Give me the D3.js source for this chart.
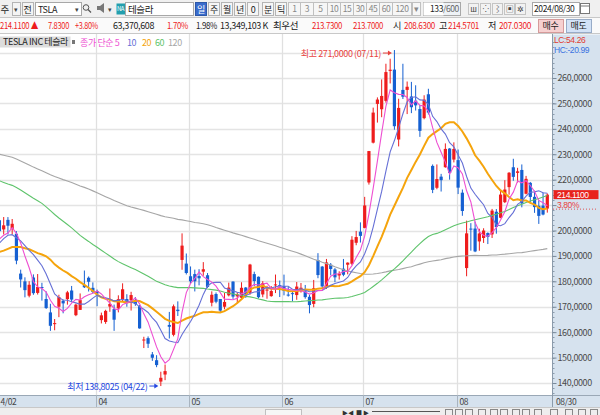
<!DOCTYPE html>
<html>
<head>
<meta charset="utf-8">
<script src="https://cdn.jsdelivr.net/npm/d3@7"></script>
<style>
body { margin: 0; background: #fff; }
svg { display: block; font-family: "Noto Sans CJK KR", "Noto Sans", sans-serif; }
.num { letter-spacing: -0.4px; }
.lat { font-family: "Liberation Sans", Arial, sans-serif; }
</style>
</head>
<body>
<script>
// TSLA daily candles, 2024-02-22 .. 2024-08-30
let dates = [
  "02/22","02/23","02/26","02/27","02/28","02/29",
  "03/01","03/04","03/05","03/06","03/07","03/08","03/11","03/12","03/13","03/14","03/15","03/18","03/19","03/20","03/21","03/22","03/25","03/26","03/27","03/28",
  "04/01","04/02","04/03","04/04","04/05","04/08","04/09","04/10","04/11","04/12","04/15","04/16","04/17","04/18","04/19","04/22","04/23","04/24","04/25","04/26","04/29","04/30",
  "05/01","05/02","05/03","05/06","05/07","05/08","05/09","05/10","05/13","05/14","05/15","05/16","05/17","05/20","05/21","05/22","05/23","05/24","05/28","05/29","05/30","05/31",
  "06/03","06/04","06/05","06/06","06/07","06/10","06/11","06/12","06/13","06/14","06/17","06/18","06/20","06/21","06/24","06/25","06/26","06/27","06/28",
  "07/01","07/02","07/03","07/05","07/08","07/09","07/10","07/11","07/12","07/15","07/16","07/17","07/18","07/19","07/22","07/23","07/24","07/25","07/26","07/29","07/30","07/31",
  "08/01","08/02","08/05","08/06","08/07","08/08","08/09","08/12","08/13","08/14","08/15","08/16","08/19","08/20","08/21","08/22","08/23","08/26","08/27","08/28","08/29","08/30"
];
let opens = [
  194.00,195.31,192.29,204.04,200.42,204.18,
  200.52,198.73,183.05,179.99,174.35,181.50,175.45,177.77,173.05,167.77,163.16,170.02,172.36,173.00,176.39,166.69,168.76,178.58,181.41,177.45,
  176.17,164.75,164.02,170.07,169.08,169.34,172.91,173.04,172.55,172.34,170.24,156.74,157.64,151.25,148.97,140.56,143.33,162.84,158.96,168.85,188.42,186.98,
  182.00,182.86,182.10,183.80,182.40,171.59,175.01,173.05,170.00,174.50,179.90,174.10,173.55,177.56,175.51,182.85,181.80,174.84,176.40,174.19,178.58,178.50,
  178.13,174.78,175.35,174.60,176.13,176.06,173.92,171.12,188.39,185.80,177.92,186.56,184.68,182.30,184.97,186.54,186.92,195.17,199.55,
  201.02,218.89,234.56,249.81,247.71,251.00,262.80,263.30,235.80,255.31,255.31,252.73,251.09,247.79,244.21,253.60,225.42,216.80,221.19,224.90,232.25,227.90,
  227.69,214.88,185.22,200.75,200.77,195.70,197.05,199.02,198.47,207.39,205.02,211.15,217.07,224.88,222.67,223.82,214.46,218.75,213.25,209.72,209.80,208.63
];
let highs = [
  198.32,197.57,201.78,205.60,205.30,205.28,
  204.52,199.75,184.59,181.58,180.04,182.73,182.87,179.43,176.05,171.17,165.18,174.72,172.82,176.25,178.18,171.20,175.24,184.25,181.91,179.57,
  176.75,167.69,168.82,177.19,170.86,174.50,179.22,174.93,175.88,173.81,170.69,158.19,158.33,152.20,150.94,144.44,147.26,167.97,170.88,172.12,198.87,190.95,
  185.86,184.60,184.78,187.56,183.26,176.06,175.62,173.06,175.40,179.49,180.00,175.79,179.63,177.75,186.88,183.80,181.90,180.08,178.25,178.15,182.67,180.32,
  182.64,177.76,176.15,179.73,179.35,178.57,174.75,180.55,191.08,186.00,188.81,187.20,185.21,183.95,188.80,187.45,197.76,199.84,203.20,
  213.23,231.30,248.35,252.37,259.44,265.61,267.59,271.00,251.84,265.60,258.62,258.47,257.14,249.44,253.21,255.76,225.99,226.00,222.28,234.27,232.41,234.68,
  231.87,216.13,203.88,202.90,203.49,200.70,200.88,199.26,208.49,208.44,215.88,219.80,222.98,228.22,224.66,225.99,221.48,219.09,215.66,211.84,214.89,214.57
];
let lows = [
  191.36,191.50,192.00,198.26,198.44,198.45,
  198.50,186.72,177.57,173.70,173.70,174.70,174.80,172.41,169.15,160.51,160.76,165.90,167.42,170.82,171.80,166.30,168.73,177.38,176.00,175.30,
  170.21,163.43,163.28,168.01,160.51,167.79,171.92,170.01,168.51,170.36,161.38,153.75,153.78,148.70,146.22,138.80,141.11,157.51,158.36,166.37,184.54,182.70,
  179.01,176.02,178.42,182.20,177.40,170.15,171.37,167.75,169.00,174.07,173.11,171.43,172.75,173.52,174.71,178.12,173.26,173.73,173.16,173.93,175.38,173.82,
  174.49,174.00,172.13,172.73,175.58,173.17,167.41,169.80,181.23,176.92,177.00,182.37,179.66,180.69,182.01,182.76,186.36,194.20,195.26,
  200.85,218.06,234.25,242.46,244.57,250.30,257.86,239.65,233.09,251.73,245.80,246.18,247.20,236.83,243.75,245.63,214.71,216.23,215.33,224.70,220.00,226.79,
  214.33,205.78,182.00,192.06,191.48,192.04,195.11,194.67,197.06,198.75,204.82,210.80,214.09,219.56,218.86,209.11,214.21,211.01,206.94,202.59,205.97,207.03
];
let closes = [
  197.41,191.97,199.40,199.73,202.04,201.88,
  202.64,188.14,180.74,176.54,178.65,175.34,177.77,177.54,169.48,162.50,163.57,173.80,171.32,175.66,172.82,170.83,172.63,177.67,179.83,175.79,
  175.22,166.63,168.38,171.11,164.90,172.98,176.88,171.76,174.60,171.05,161.48,157.11,155.45,149.93,147.05,142.05,144.68,162.13,170.18,168.29,194.05,183.28,
  179.99,180.01,181.19,184.76,177.81,174.72,171.97,168.47,171.89,177.55,173.99,174.84,177.46,174.95,186.60,180.11,173.74,179.24,176.75,176.19,178.79,178.08,
  176.29,174.77,175.00,177.94,177.48,173.79,170.66,177.29,182.47,178.01,187.44,184.86,181.57,183.01,182.58,187.35,196.37,197.42,197.88,
  209.86,231.26,246.39,251.52,252.94,262.33,263.26,241.03,248.23,252.64,256.56,248.50,249.23,239.20,251.51,246.38,215.99,220.25,219.80,232.10,222.62,232.07,
  216.86,207.67,198.88,200.64,191.76,198.84,200.00,197.49,207.83,201.38,214.14,216.12,222.72,221.10,223.27,210.66,220.32,213.21,209.21,205.75,206.28,214.11
];
// closes before the first bar (2023-08-31 .. 2024-02-21), needed for the moving averages
let priorCloses = [
  258.08,245.01,
  256.49,251.92,251.49,248.50,273.58,267.48,271.30,276.04,274.39,265.28,266.50,262.59,255.70,244.88,246.99,244.12,240.50,246.38,250.22,
  251.60,246.53,261.16,260.05,260.53,259.67,263.62,262.99,258.87,251.12,253.92,254.85,242.68,220.11,211.99,212.08,216.52,212.42,205.76,207.30,197.36,200.84,
  205.66,218.51,219.96,219.27,222.18,222.11,209.98,214.65,223.71,237.41,242.84,233.59,234.30,235.60,241.20,234.21,235.45,236.08,246.72,244.14,240.08,
  238.83,235.58,238.72,239.37,242.64,243.84,239.74,237.01,239.29,251.05,253.50,252.08,257.22,247.14,254.50,252.54,256.61,261.44,253.18,248.48,
  248.42,238.45,237.93,237.49,240.45,234.96,233.94,227.22,218.89,219.91,215.55,211.88,212.19,208.80,209.14,207.83,182.63,183.25,190.93,191.59,187.29,
  188.86,187.91,181.06,185.10,187.58,189.56,193.57,188.13,184.02,188.71,200.45,199.95,193.76,194.77
];
let maPeriods = [120, 60, 20, 10, 5];
let maColors = {5: "#ee4fd2", 10: "#6670d6", 20: "#f5a40c", 60: "#5fc46c", 120: "#a6a6a6"};
let yTicks = d3.range(140, 261, 10);
let gridTicks = d3.range(140, 271, 10);
let highMark = {date: "07/11", value: 271.0000};
let lowMark = {date: "04/22", value: 138.8025};

let width = 600;
let height = 415;
let plotRight = 552;
let plotTop = 34;
let plotBottom = 395;
let red = "#ee1c1c";
let blue = "#1560d2";

let svg = d3.select("body")
    .append("svg")
    .attr("width", width)
    .attr("height", height);

let x = d3.scalePoint().domain(dates).range([-13.3, 547.3]);
let y = d3.scaleLinear().domain([140, 260]).range([383, 78]);

function txt(g, x0, y0, s, color, size, anchor, len) {
    let t = g.append("text")
        .attr("x", x0).attr("y", y0)
        .attr("class", "num")
        .attr("font-size", size || 9)
        .attr("fill", color || "#222")
        .attr("text-anchor", anchor || "start")
        .text(s);
    if (len) t.attr("textLength", len).attr("lengthAdjust", "spacingAndGlyphs");
    return t;
}
function box(g, x0, y0, w, h, fill, stroke) {
    return g.append("rect")
        .attr("x", x0 + 0.5).attr("y", y0 + 0.5)
        .attr("width", w).attr("height", h)
        .attr("fill", fill).attr("stroke", stroke || "none");
}

// ---------- plot area ----------
svg.append("defs").append("clipPath").attr("id", "plotClip")
    .append("rect").attr("x", 0).attr("y", plotTop).attr("width", plotRight).attr("height", plotBottom - plotTop);

let plot = svg.append("g").attr("clip-path", "url(#plotClip)");

plot.selectAll(".hgrid")
    .data(gridTicks)
    .enter().append("line")
    .attr("x1", 0).attr("x2", plotRight)
    .attr("y1", d => Math.round(y(d)) + 0.5)
    .attr("y2", d => Math.round(y(d)) + 0.5)
    .attr("stroke", "#e4e4e4")
    .attr("stroke-width", 1.3);

let monthStarts = dates.filter((d, i) => i > 0 && d.slice(0, 2) !== dates[i - 1].slice(0, 2) && x(d) > 40);

plot.selectAll(".vgrid")
    .data(monthStarts)
    .enter().append("line")
    .attr("x1", d => Math.round(x(d) - 1.5) + 0.5)
    .attr("x2", d => Math.round(x(d) - 1.5) + 0.5)
    .attr("y1", plotTop).attr("y2", plotBottom)
    .attr("stroke", "#e0e0e0")
    .attr("stroke-width", 1.3);

// candles
let candles = plot.append("g")
    .selectAll("g")
    .data(dates)
    .enter().append("g");

candles.append("line")
    .attr("x1", d => x(d)).attr("x2", d => x(d))
    .attr("y1", (d, i) => y(highs[i]))
    .attr("y2", (d, i) => y(lows[i]))
    .attr("stroke", (d, i) => closes[i] >= opens[i] ? red : blue)
    .attr("stroke-width", 1);

candles.append("rect")
    .attr("x", d => x(d) - 1.6)
    .attr("width", 3.2)
    .attr("y", (d, i) => y(Math.max(opens[i], closes[i])))
    .attr("height", (d, i) => Math.max(1, Math.abs(y(opens[i]) - y(closes[i]))))
    .attr("fill", (d, i) => closes[i] >= opens[i] ? red : blue);

// moving averages of the close
let allCloses = priorCloses.concat(closes);
let offset = priorCloses.length;
maPeriods.forEach(function(n) {
    let values = closes.map(function(c, i) {
        return d3.mean(allCloses.slice(offset + i - n + 1, offset + i + 1));
    });
    let line = d3.line()
        .x((d, i) => x(dates[i]))
        .y(d => y(d));
    plot.append("path")
        .datum(values)
        .attr("d", line)
        .attr("fill", "none")
        .attr("stroke", maColors[n])
        .attr("stroke-width", n === 20 ? 2 : 1.1);
});

// high / low markers
function marker(m, color, dy, label) {
    let xe = x(m.date) - 2.5;
    let ya = y(m.value) + dy;
    plot.append("line")
        .attr("x1", xe - 9).attr("x2", xe - 2)
        .attr("y1", ya).attr("y2", ya)
        .attr("stroke", color).attr("stroke-width", 1);
    plot.append("path")
        .attr("d", `M${xe},${ya} L${xe - 4},${ya - 2.5} L${xe - 4},${ya + 2.5} Z`)
        .attr("fill", color);
    txt(plot, xe - 11, ya + 3.5, label + " " + m.value.toFixed(4).replace(".", ",") + " (" + m.date + ")", color, 9, "end");
}
marker(highMark, "#e8423e", 3, "최고");
marker(lowMark, "#2346e0", 0, "최저");

// legend row
box(svg, -1, 36, 71, 11, "#dcdcdc");
txt(svg, 68, 45, "TESLA INC  테슬라", "#222", 9, "end");
svg.append("rect").attr("x", 72).attr("y", 40).attr("width", 3).attr("height", 4).attr("fill", "#777");
let legendItems = [[80, "종가 단순 5", 5], [127, "10", 10], [142, "20", 20], [155, "60", 60], [168, "120", 120]];
legendItems.forEach(function(it) {
    txt(svg, it[0], 45.5, it[1], maColors[it[2]], 9);
});

// ---------- right price axis ----------
let axisG = svg.append("g");
box(axisG, plotRight, plotTop, width - plotRight, plotBottom - plotTop, "#d6e2ee");
axisG.append("line").attr("x1", plotRight + 0.5).attr("x2", plotRight + 0.5)
    .attr("y1", plotTop).attr("y2", 407).attr("stroke", "#8b9bab");

axisG.selectAll(".minor")
    .data(d3.range(136, 276, 2))
    .enter().append("line")
    .attr("x1", plotRight).attr("x2", plotRight + 2.5)
    .attr("y1", d => Math.round(y(d)) + 0.5).attr("y2", d => Math.round(y(d)) + 0.5)
    .attr("stroke", "#8b9bab");

let last = closes.length - 1;
let lastY = y(closes[last]);

let yAxis = d3.axisRight(y)
    .tickValues(yTicks)
    .tickSize(4)
    .tickFormat(v => Math.abs(y(v) - lastY - 5) < 12 ? "" : v.toFixed(4).replace(".", ","));
let yAxisG = axisG.append("g")
    .attr("transform", "translate(" + (plotRight + 0.5) + ",0)")
    .call(yAxis);
yAxisG.select(".domain").remove();
yAxisG.selectAll(".tick line").attr("stroke", "#7a8a9a");
yAxisG.selectAll(".tick text")
    .attr("x", 5)
    .attr("class", "num")
    .attr("font-size", 9)
    .attr("font-family", "Noto Sans CJK KR, Noto Sans, sans-serif")
    .attr("fill", "#4a4a4a");

txt(axisG, 554, 43, "LC:54.26", "#e03a30", 8.5).classed("lat", true);
txt(axisG, 554, 53, "HC:-20.99", "#3a72e0", 8.5).classed("lat", true);

box(axisG, 553, lastY - 5, 45, 9, "#e8221c");
txt(axisG, 557, lastY + 3, closes[last].toFixed(4), "#fff", 8.5).classed("lat", true);
txt(axisG, 557, lastY + 13, "3.80%", "#e8423e", 8.5).classed("lat", true);
axisG.append("line").attr("x1", 553).attr("x2", 598)
    .attr("y1", lastY + 14.5).attr("y2", lastY + 14.5)
    .attr("stroke", "#d55").attr("stroke-dasharray", "1,2");

// ---------- bottom date axis ----------
let xAxisG = svg.append("g");
box(xAxisG, -1, plotBottom, width + 1, 12, "#d6e2ee", "#9aa8b6");
xAxisG.append("line").attr("x1", plotRight + 0.5).attr("x2", plotRight + 0.5)
    .attr("y1", plotBottom).attr("y2", 407).attr("stroke", "#8b9bab");
txt(xAxisG, 0.5, 404.5, "4/02", "#444", 8.5);
monthStarts.forEach(function(d) {
    let xx = Math.round(x(d) - 1.5) + 0.5;
    xAxisG.append("line").attr("x1", xx).attr("x2", xx).attr("y1", plotBottom).attr("y2", 407).attr("stroke", "#a8b4c0");
    txt(xAxisG, xx + 2, 404.5, d.slice(0, 2), "#444", 8.5);
});
txt(xAxisG, 556, 404.5, dates[last], "#444", 8.5);

// bottom toolbar
let tb = svg.append("g");
box(tb, -1, 407, width + 1, 9, "#eeeeee", "#c8c8c8");
box(tb, 265, 409, 36, 7, "#f6f6f6", "#c0c0c0");
[[342, "▶"], [348, "◀"], [356, "■"], [363, "▶"]].forEach(function(t) {
    txt(tb, t[0], 414.5, t[1], "#333", 6);
});
tb.append("line").attr("x1", 372).attr("x2", 440).attr("y1", 411.5).attr("y2", 411.5).attr("stroke", "#555");
[445, 455, 465, 478, 490, 500, 512, 522, 534, 550, 565, 578, 590].forEach(function(xx) {
    box(tb, xx, 409, 7, 6, "none", "#888");
});

// ---------- header rows ----------
let hd = svg.append("g");
box(hd, -1, -1, width + 1, 18, "#f0f0f0", "#c8c8c8");
box(hd, -1, 17, width + 1, 16, "#fafafa", "#c8c8c8");

txt(hd, 0.5, 13, "주", "#222", 9.5);
box(hd, 12, 2, 8, 13, "#f4f4f4", "#b4b4b4");
txt(hd, 16, 12, "▾", "#444", 7, "middle");
box(hd, 22, 2, 11, 13, "#f4f4f4", "#b4b4b4");
txt(hd, 27.5, 12.5, "전", "#222", 9, "middle");
box(hd, 35, 2, 46, 13, "#fff", "#a8a8a8");
txt(hd, 38, 12.5, "TSLA", "#222", 9);
txt(hd, 77, 12, "▾", "#444", 7, "middle");
hd.append("circle").attr("cx", 86).attr("cy", 7.5).attr("r", 2.8).attr("fill", "none").attr("stroke", "#555");
hd.append("line").attr("x1", 88).attr("y1", 9.5).attr("x2", 91).attr("y2", 12.5).attr("stroke", "#555").attr("stroke-width", 1.3);
hd.append("path").attr("d", "M97,6 L100,6 L104,3 L104,13 L100,10 L97,10 Z").attr("fill", "#777");
txt(hd, 110, 12, "▾", "#444", 7, "middle");
box(hd, 116, 3, 9, 11, "#239fae");
txt(hd, 120.5, 11, "NA", "#fff", 6, "middle");
box(hd, 125, 2, 68, 13, "#fff", "#a8a8a8");
txt(hd, 128, 12.5, "테슬라", "#222", 9.5);

let periodBtns = [[195, 11, "일"], [208, 11, "주"], [221, 11, "월"], [234, 11, "년"], [247, 11, "0"], [262, 11, "분"], [275, 11, "틱"]];
periodBtns.forEach(function(b) {
    let sel = b[2] === "일";
    box(hd, b[0], 2, b[1], 13, sel ? "#3a6ccc" : "#f6f6f6", sel ? "#2d58a8" : "#b4b4b4");
    txt(hd, b[0] + b[1] / 2 + 0.5, 12.5, b[2], sel ? "#fff" : "#222", 9, "middle");
});
let minuteBtns = [[288, 12, "1"], [300, 13, "3"], [313, 14, "5"], [327, 13, "10"], [340, 13, "15"], [353, 13, "30"], [366, 13, "45"], [379, 13, "60"], [392, 19, "120"], [412, 8, "▾"]];
minuteBtns.forEach(function(b) {
    box(hd, b[0], 2, b[1], 13, "#f6f6f6", "#c0c0c0");
    txt(hd, b[0] + b[1] / 2 + 0.5, 12, b[2], "#888", 8.5, "middle");
});
box(hd, 423, 2, 37, 13, "#eef2f6", "#a8a8a8");
box(hd, 423, 2, 20, 13, "#fff");
txt(hd, 443, 12, "133", "#222", 8.5, "end");
txt(hd, 443, 12, "/600", "#666", 8.5);
[468, 480, 492, 504, 515].forEach(function(xx, k) {
    box(hd, xx, 3, 10, 11, "#f2f2f2", "#c4c4c4");
    txt(hd, xx + 5.5, 12, ["ш", "⁘", "⌇", "▣", "✲"][k], "#444", 8, "middle");
});
box(hd, 532, 2, 47, 13, "#fff", "#a8a8a8");
txt(hd, 534, 12, "2024/08/30", "#222", 8.5);
box(hd, 580, 3, 9, 10, "#fff", "#777");
hd.append("line").attr("x1", 580).attr("x2", 589).attr("y1", 6).attr("y2", 6).attr("stroke", "#777");

// [x, text, colour, width]
let infoItems = [
    [0, "214.1100 ▲", red, 38], [48, "7.8300", red, 21], [75, "+3.80%", red, 23],
    [113, "63,370,608", "#222", 41], [167, "1.70%", red, 21], [196, "1.98%", "#222", 21],
    [220, "13,349,103 K", "#222", 48], [273, "최우선", "#222", 25], [312, "213.7300", red, 30],
    [353, "213.7000", red, 30], [393, "시", "#222", 8], [404, "208.6300", red, 31],
    [439, "고", "#222", 8], [448, "214.5701", red, 31], [488, "저", "#222", 8], [499, "207.0300", red, 32]
];
infoItems.forEach(function(it) {
    txt(hd, it[0], 29, it[1], it[2], 9.5, "start", it[3]);
});
box(hd, 538, 19, 25, 13, "#f6d0d0", "#d59a9a");
txt(hd, 550.5, 29, "매수", "#222", 9, "middle");
box(hd, 566, 19, 25, 13, "#d3e2f6", "#98acc8");
txt(hd, 578.5, 29, "매도", "#222", 9, "middle");
</script>
</body>
</html>
